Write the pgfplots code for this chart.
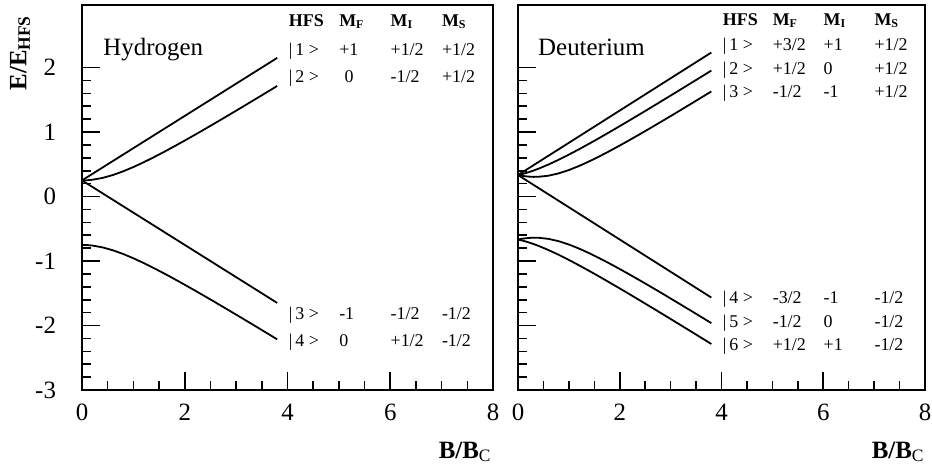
\documentclass[border=0pt]{standalone}
\usepackage{fontspec}
\setmainfont{Liberation Serif}
\usepackage{pgfplots}
\usepackage{pgfplotstable}
\pgfplotsset{compat=1.18}

% Breit-Rabi levels of hydrogen, E/E_HFS against B/B_C
\pgfplotstableread{
x    h1     h2      h3      h4
0.0  0.25  0.2500   0.25  -0.7500
0.1  0.30  0.2525   0.20  -0.7525
0.2  0.35  0.2599   0.15  -0.7599
0.4  0.45  0.2885   0.05  -0.7885
0.6  0.55  0.3331  -0.05  -0.8331
0.8  0.65  0.3903  -0.15  -0.8903
1.0  0.75  0.4571  -0.25  -0.9571
1.2  0.85  0.5310  -0.35  -1.0310
1.4  0.95  0.6102  -0.45  -1.1102
1.6  1.05  0.6934  -0.55  -1.1934
1.8  1.15  0.7796  -0.65  -1.2796
2.0  1.25  0.8680  -0.75  -1.3680
2.2  1.35  0.9583  -0.85  -1.4583
2.4  1.45  1.0500  -0.95  -1.5500
2.6  1.55  1.1428  -1.05  -1.6428
2.8  1.65  1.2366  -1.15  -1.7366
3.0  1.75  1.3311  -1.25  -1.8311
3.2  1.85  1.4263  -1.35  -1.9263
3.4  1.95  1.5220  -1.45  -2.0220
3.6  2.05  1.6182  -1.55  -2.1182
3.8  2.15  1.7147  -1.65  -2.2147
}\hydrogen

% Breit-Rabi levels of deuterium
\pgfplotstableread{
x    d1      d2      d3      d4       d5       d6
0.0  0.3333  0.3333  0.3333   0.3333  -0.6667  -0.6667
0.1  0.3833  0.3522  0.3190   0.2833  -0.6523  -0.6855
0.2  0.4333  0.3749  0.3094   0.2333  -0.6428  -0.7083
0.3  0.4833  0.4012  0.3050   0.1833  -0.6384  -0.7346
0.4  0.5333  0.4306  0.3059   0.1333  -0.6393  -0.7639
0.6  0.6333  0.4967  0.3232   0.0333  -0.6566  -0.8300
0.8  0.7333  0.5704  0.3593  -0.0667  -0.6927  -0.9038
1.0  0.8333  0.6498  0.4107  -0.1667  -0.7440  -0.9832
1.2  0.9333  0.7333  0.4736  -0.2667  -0.8070  -1.0667
1.4  1.0333  0.8199  0.5451  -0.3667  -0.8785  -1.1532
1.6  1.1333  0.9088  0.6229  -0.4667  -0.9562  -1.2422
1.8  1.2333  0.9995  0.7051  -0.5667  -1.0385  -1.3329
2.0  1.3333  1.0916  0.7908  -0.6667  -1.1241  -1.4250
2.2  1.4333  1.1849  0.8790  -0.7667  -1.2123  -1.5182
2.4  1.5333  1.2790  0.9691  -0.8667  -1.3025  -1.6124
2.6  1.6333  1.3739  1.0608  -0.9667  -1.3941  -1.7072
2.8  1.7333  1.4694  1.1537  -1.0667  -1.4870  -1.8027
3.0  1.8333  1.5654  1.2476  -1.1667  -1.5809  -1.8987
3.2  1.9333  1.6618  1.3422  -1.2667  -1.6755  -1.9952
3.4  2.0333  1.7586  1.4375  -1.3667  -1.7708  -2.0919
3.6  2.1333  1.8557  1.5333  -1.4667  -1.8667  -2.1890
3.8  2.2333  1.9531  1.6296  -1.5667  -1.9630  -2.2864
}\deuterium

\pgfplotsset{
  breitrabi/.style={
    scale only axis, height=192.5bp,
    xmin=0, xmax=8, ymin=-3, ymax=2.97,
    xtick={0,2,4,6,8}, ytick={-3,-2,-1,0,1,2},
    minor x tick num=3, minor y tick num=4,
    tick pos=left, tick align=inside,
    major tick length=9bp, minor tick length=4.5bp,
    axis line style={line width=0.9bp},
    every tick/.append style={line width=0.8bp, black},
    tick label style={font=\fontsize{12.5}{14}\selectfont},
    /pgf/number format/assume math mode=true,
    xticklabel style={yshift=-3.3bp},
    yticklabel style={xshift=-9.5bp},
    cycle list={black,line width=0.9bp\\},
    clip=false,
  },
}
\tikzset{
  tab/.style={anchor=base west, inner sep=0pt, font=\fontsize{9}{10}\selectfont},
  ttl/.style={anchor=base west, inner sep=0pt, font=\fontsize{12.5}{14}\selectfont},
}
% one line of a quantum-number table: y, ket, M_F, M_I, M_S
\newcommand\qrow[5]{%
  \node[tab] at (axis cs:4.02,#1) {#2};
  \node[tab] at (axis cs:5.00,#1) {#3};
  \node[tab] at (axis cs:6.00,#1) {#4};
  \node[tab] at (axis cs:7.00,#1) {#5};
}

\begin{document}
\begin{tikzpicture}
\path[use as bounding box] (0,0) rectangle (466bp,235.5bp);

% ---------------- Hydrogen ----------------
\begin{axis}[breitrabi, width=205.5bp, at={(41bp,40.5bp)}, anchor=south west]
  \addplot table[x=x, y=h1] {\hydrogen};
  \addplot table[x=x, y=h2] {\hydrogen};
  \addplot table[x=x, y=h3] {\hydrogen};
  \addplot table[x=x, y=h4] {\hydrogen};
  \node[ttl] at (axis cs:0.41,2.19) {Hydrogen};
  \qrow{2.64}{\textbf{HFS}}{\textbf{M\textsubscript{F}}}{\textbf{M\textsubscript{I}}}{\textbf{M\textsubscript{S}}}
  \qrow{2.19}{|\,1 >}{+1}{+1/2}{+1/2}
  \qrow{1.77}{|\,2 >}{\hspace{0.3em}0}{-1/2}{+1/2}
  \qrow{-1.91}{|\,3 >}{-1}{-1/2}{-1/2}
  \qrow{-2.32}{|\,4 >}{0}{+1/2}{-1/2}
\end{axis}

% ---------------- Deuterium ----------------
\begin{axis}[breitrabi, width=203.5bp, at={(259bp,40.5bp)}, anchor=south west,
             yticklabels={}]
  \addplot table[x=x, y=d1] {\deuterium};
  \addplot table[x=x, y=d2] {\deuterium};
  \addplot table[x=x, y=d3] {\deuterium};
  \addplot table[x=x, y=d4] {\deuterium};
  \addplot table[x=x, y=d5] {\deuterium};
  \addplot table[x=x, y=d6] {\deuterium};
  \node[ttl] at (axis cs:0.39,2.19) {Deuterium};
  \qrow{2.65}{\textbf{HFS}}{\textbf{M\textsubscript{F}}}{\textbf{M\textsubscript{I}}}{\textbf{M\textsubscript{S}}}
  \qrow{2.26}{|\,1 >}{+3/2}{+1}{+1/2}
  \qrow{1.90}{|\,2 >}{+1/2}{0}{+1/2}
  \qrow{1.54}{|\,3 >}{-1/2}{-1}{+1/2}
  \qrow{-1.66}{|\,4 >}{-3/2}{-1}{-1/2}
  \qrow{-2.03}{|\,5 >}{-1/2}{0}{-1/2}
  \qrow{-2.39}{|\,6 >}{+1/2}{+1}{-1/2}
\end{axis}

% axis titles
\node[rotate=90, inner sep=0pt, font=\fontsize{12.5}{14}\selectfont\bfseries]
  at (10bp,209bp) {E/E\textsubscript{HFS}};
\node[anchor=base east, inner sep=0pt, font=\fontsize{12.5}{14}\selectfont]
  at (246bp,6.5bp) {\textbf{B/B}\textsubscript{C}};
\node[anchor=base east, inner sep=0pt, font=\fontsize{12.5}{14}\selectfont]
  at (462.5bp,6.5bp) {\textbf{B/B}\textsubscript{C}};
\end{tikzpicture}
\end{document}
